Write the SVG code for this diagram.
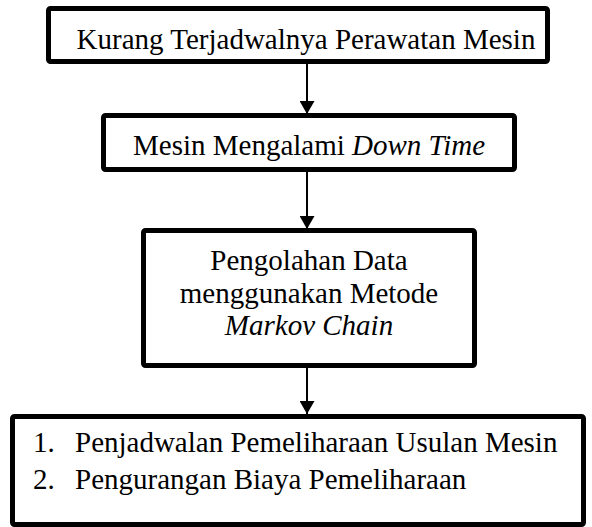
<svg xmlns="http://www.w3.org/2000/svg" width="592" height="527" viewBox="0 0 592 527">
<style>
.box{fill:#fff;stroke:#000;stroke-width:5}
.t{font-family:'Liberation Serif','Times New Roman','DejaVu Serif',serif;font-size:29px;fill:#000}
.c{text-anchor:middle}
.i{font-style:italic}
.conn{stroke:#000;stroke-width:2;fill:none}
</style>
<defs>
<marker id="ah" viewBox="0 0 13 15" refX="13" refY="7.5" markerWidth="13" markerHeight="15" markerUnits="userSpaceOnUse" orient="auto">
<path d="M0,0 L13,7.5 L0,15 z" fill="#000"/>
</marker>
</defs>
<rect width="592" height="527" fill="#fff"/>
<g id="connectors">
<line class="conn" x1="307" y1="64" x2="307" y2="114" marker-end="url(#ah)"/>
<line class="conn" x1="307" y1="172" x2="307" y2="229" marker-end="url(#ah)"/>
<line class="conn" x1="307" y1="368" x2="307" y2="414" marker-end="url(#ah)"/>
</g>
<g id="node1">
<rect class="box" x="48.5" y="8.5" width="499" height="53" rx="2"/>
<text class="t c" x="306" y="49" font-family="Liberation Serif, serif">Kurang Terjadwalnya Perawatan Mesin</text>
</g>
<g id="node2">
<rect class="box" x="103.5" y="115.5" width="411" height="54" rx="2"/>
<text class="t c" x="309" y="155" font-family="Liberation Serif, serif">Mesin Mengalami <tspan class="i">Down Time</tspan></text>
</g>
<g id="node3">
<rect class="box" x="143.5" y="230.5" width="331" height="135" rx="2"/>
<text class="t c" x="309" y="270" font-family="Liberation Serif, serif">Pengolahan Data</text>
<text class="t c" x="309" y="303" font-family="Liberation Serif, serif">menggunakan Metode</text>
<text class="t c i" x="309" y="335" font-family="Liberation Serif, serif">Markov Chain</text>
</g>
<g id="node4">
<rect class="box" x="12.5" y="416.5" width="571" height="108" rx="2"/>
<text class="t" x="33" y="452" font-family="Liberation Serif, serif">1.</text>
<text class="t" x="75" y="452" font-family="Liberation Serif, serif">Penjadwalan Pemeliharaan Usulan Mesin</text>
<text class="t" x="33" y="489" font-family="Liberation Serif, serif">2.</text>
<text class="t" x="75" y="489" font-family="Liberation Serif, serif">Pengurangan Biaya Pemeliharaan</text>
</g>
</svg>
